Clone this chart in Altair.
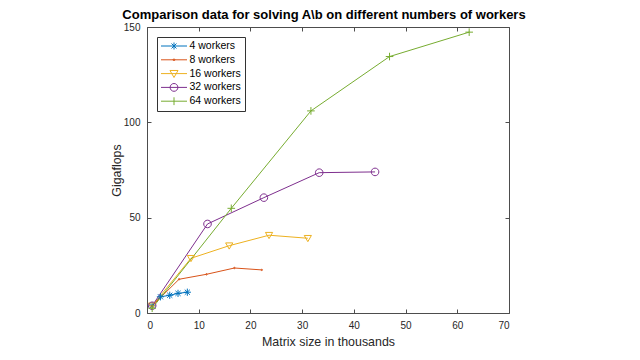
import altair as alt
import pandas as pd

series = ["4 workers", "8 workers", "16 workers", "32 workers", "64 workers"]

w4_x = [1.0, 2.6, 4.4, 6.0, 7.8]
w4_y = [3.8, 8.5, 9.3, 10.3, 10.9]
w8_x = [1.0, 6.2, 11.5, 16.9, 22.2]
w8_y = [3.8, 17.7, 20.3, 23.6, 22.6]
w16_x = [1.0, 8.5, 15.9, 23.6, 31.1]
w16_y = [3.8, 28.7, 35.3, 40.8, 39.2]
w32_x = [1.0, 11.7, 22.6, 33.3, 44.1]
w32_y = [3.8, 46.7, 60.5, 73.6, 74.0]
w64_x = [1.0, 16.3, 31.7, 46.9, 62.3]
w64_y = [2.5, 54.9, 106.0, 134.5, 147.3]

x_ticks = [0, 10, 20, 30, 40, 50, 60, 70]
y_ticks = [0, 50, 100, 150]

colors = ["#0072BD", "#D95319", "#EDB120", "#7E2F8E", "#77AC30"]

# marker shapes for the data points (unit = half the marker size)
asterisk = "M-0.9,0L0.9,0M0,-0.9L0,0.9M-0.64,-0.64L0.64,0.64M-0.64,0.64L0.64,-0.64"
dot = "M-0.18,0A0.18,0.18 0 1,0 0.18,0A0.18,0.18 0 1,0 -0.18,0Z"
tri_down = "M-0.9,-0.7L0.9,-0.7L0,0.85Z"
circ = "M-0.95,0A0.95,0.95 0 1,0 0.95,0A0.95,0.95 0 1,0 -0.95,0Z"
plus = "M-0.95,0L0.95,0M0,-0.95L0,0.95"
shapes = [asterisk, dot, tri_down, circ, plus]

# legend symbols: line segment with the marker in the middle
seg = "M-1,0L1,0"
leg_shapes = [
    seg + "M0,-0.27L0,0.27M-0.19,-0.19L0.19,0.19M-0.19,0.19L0.19,-0.19",
    seg + "M-0.07,0A0.07,0.07 0 1,0 0.07,0A0.07,0.07 0 1,0 -0.07,0Z",
    seg + "M-0.31,-0.24L0.31,-0.24L0,0.3Z",
    seg + "M-0.3,0A0.3,0.3 0 1,0 0.3,0A0.3,0.3 0 1,0 -0.3,0Z",
    seg + "M0,-0.3L0,0.3",
]

rows = []
for name, xs, ys in zip(series, [w4_x, w8_x, w16_x, w32_x, w64_x],
                        [w4_y, w8_y, w16_y, w32_y, w64_y]):
    for i, (xv, yv) in enumerate(zip(xs, ys)):
        rows.append({"series": name, "msize": xv, "gflops": yv, "ord": i})
df = pd.DataFrame(rows)

FONT = "Liberation Sans"
INWARD = alt.ExprRef("-4")

xscale = alt.Scale(domain=[0, 70], nice=False, zero=False)
yscale = alt.Scale(domain=[0, 150], nice=False)

# main axes (bottom / left) with inward ticks
x_main = alt.X("msize:Q", scale=xscale,
               axis=alt.Axis(values=x_ticks, title="Matrix size in thousands",
                             tickSize=INWARD, labelPadding=11))
y_main = alt.Y("gflops:Q", scale=yscale,
               axis=alt.Axis(values=y_ticks, title="Gigaflops",
                             tickSize=INWARD, labelPadding=11))
# mirrored axes (top / right): ticks only
x_top = alt.X("msize:Q", scale=xscale,
              axis=alt.Axis(values=x_ticks, orient="top", labels=False, title=None,
                            tickSize=INWARD))
y_right = alt.Y("gflops:Q", scale=yscale,
                axis=alt.Axis(values=y_ticks, orient="right", labels=False, title=None,
                              tickSize=INWARD))

color_nl = alt.Color("series:N", scale=alt.Scale(domain=series, range=colors), legend=None)

lines = alt.Chart(df).mark_line(strokeWidth=1).encode(
    x=x_main, y=y_main, color=color_nl, detail="series:N", order="ord:Q",
)

points = alt.Chart(df).mark_point(filled=False, strokeWidth=1, opacity=1, size=64).encode(
    x=x_top, y=y_right, color=color_nl,
    shape=alt.Shape("series:N", scale=alt.Scale(domain=series, range=shapes), legend=None),
)

leg = alt.Legend(title=None, orient="none", legendX=10, legendY=10,
                 fillColor="white", strokeColor="#333333", padding=3.5,
                 labelFontSize=10.5, labelFont=FONT, labelColor="#000000",
                 symbolStrokeWidth=1, symbolSize=676, clipHeight=11,
                 rowPadding=2.8, labelOffset=2)

legend_layer = alt.Chart(df).mark_point(filled=False, strokeWidth=1, opacity=0, size=676).encode(
    x=alt.X("msize:Q", scale=xscale, axis=None),
    y=alt.Y("gflops:Q", scale=yscale, axis=None),
    color=alt.Color("series:N", scale=alt.Scale(domain=series, range=colors), legend=leg),
    shape=alt.Shape("series:N", scale=alt.Scale(domain=series, range=leg_shapes), legend=leg),
)

chart = alt.layer(lines, points, legend_layer).resolve_scale(
    color="independent", shape="independent"
).resolve_axis(
    x="independent", y="independent"
).properties(
    width=362, height=286,
    title=alt.TitleParams("Comparison data for solving A\\b on different numbers of workers",
                          font=FONT, fontSize=13, fontWeight="bold", color="#000000",
                          anchor="middle", offset=0, dx=-4),
    autosize=alt.AutoSizeParams(type="none"),
    padding={"left": 139, "top": 19, "right": 20, "bottom": 40},
).configure_view(
    stroke="#4d4d4d", strokeWidth=1
).configure_axis(
    labelFont=FONT, titleFont=FONT, labelFontSize=10, titleFontSize=12.4,
    labelColor="#262626", titleColor="#262626", titleFontWeight="normal",
    domain=False, grid=False, tickColor="#4d4d4d", tickWidth=1,
).configure_axisY(
    titlePadding=0
).configure_axisX(
    titlePadding=5
)

chart.save("out.html", embed_options={"renderer": "svg", "actions": False})
